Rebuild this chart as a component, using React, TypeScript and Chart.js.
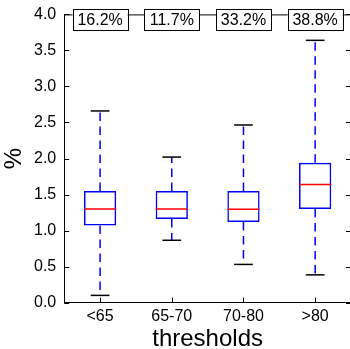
import React, { useEffect, useRef } from 'react';
import { Chart, registerables } from 'chart.js';
Chart.register(...registerables);

const categories = ['<65', '65-70', '70-80', '>80'];
const q1 = [1.07, 1.16, 1.12, 1.3];
const q3 = [1.55, 1.55, 1.55, 1.94];
const medians = [1.3, 1.3, 1.295, 1.64];
const whiskerLow = [0.1, 0.865, 0.53, 0.385];
const whiskerHigh = [2.66, 2.02, 2.465, 3.64];
const shares = ['16.2%', '11.7%', '33.2%', '38.8%'];
const yTicks = [0, 0.5, 1, 1.5, 2, 2.5, 3, 3.5, 4];

const FONT = "'Liberation Sans', Arial, sans-serif";

const boxExtras = {
  id: 'boxExtras',
  afterDatasetsDraw(chart: any) {
    const { ctx, chartArea: a, scales } = chart;
    const x = scales.x;
    const y = scales.y;
    const meta = chart.getDatasetMeta(0);
    ctx.save();
    categories.forEach((_, i) => {
      const cx = x.getPixelForValue(i);
      const bw = meta.data[i] ? meta.data[i].width : 32;
      ctx.strokeStyle = '#0000ff';
      ctx.lineWidth = 1.5;
      ctx.setLineDash([8.5, 5.5]);
      ctx.beginPath();
      ctx.moveTo(cx, y.getPixelForValue(q3[i]));
      ctx.lineTo(cx, y.getPixelForValue(whiskerHigh[i]));
      ctx.stroke();
      ctx.beginPath();
      ctx.moveTo(cx, y.getPixelForValue(q1[i]));
      ctx.lineTo(cx, y.getPixelForValue(whiskerLow[i]));
      ctx.stroke();
      ctx.setLineDash([]);
      ctx.strokeStyle = '#000000';
      const cw = bw * 0.29;
      [whiskerHigh[i], whiskerLow[i]].forEach((v) => {
        const py = y.getPixelForValue(v);
        ctx.beginPath();
        ctx.moveTo(cx - cw, py);
        ctx.lineTo(cx + cw, py);
        ctx.stroke();
      });
      ctx.strokeStyle = '#ff0000';
      const my = y.getPixelForValue(medians[i]);
      ctx.beginPath();
      ctx.moveTo(cx - bw / 2, my);
      ctx.lineTo(cx + bw / 2, my);
      ctx.stroke();
    });
    ctx.strokeStyle = '#000000';
    ctx.lineWidth = 1;
    ctx.beginPath();
    ctx.moveTo(a.left, a.top + 0.5);
    ctx.lineTo(a.right, a.top + 0.5);
    ctx.moveTo(a.right - 0.5, a.top);
    ctx.lineTo(a.right - 0.5, a.bottom);
    ctx.stroke();
    ctx.beginPath();
    yTicks.forEach((v) => {
      const py = Math.round(y.getPixelForValue(v)) + 0.5;
      ctx.moveTo(a.left, py);
      ctx.lineTo(a.left + 5, py);
      ctx.moveTo(a.right, py);
      ctx.lineTo(a.right - 5, py);
    });
    categories.forEach((_, i) => {
      const px = Math.round(x.getPixelForValue(i)) + 0.5;
      ctx.moveTo(px, a.bottom);
      ctx.lineTo(px, a.bottom - 5);
    });
    ctx.stroke();
    ctx.font = `16px ${FONT}`;
    ctx.textAlign = 'center';
    ctx.textBaseline = 'middle';
    shares.forEach((s, i) => {
      const cx = x.getPixelForValue(i);
      const w = 55;
      const h = 21;
      const top = a.top - 5;
      ctx.fillStyle = '#ffffff';
      ctx.fillRect(cx - w / 2, top, w, h);
      ctx.strokeStyle = '#000000';
      ctx.lineWidth = 1;
      ctx.strokeRect(Math.round(cx - w / 2) + 0.5, Math.round(top) + 0.5, w, h);
      ctx.fillStyle = '#000000';
      ctx.fillText(s, cx, top + h / 2 + 1);
    });
    ctx.restore();
  },
};

export default function App() {
  const ref = useRef<HTMLCanvasElement | null>(null);
  useEffect(() => {
    document.body.style.margin = '0';
    const canvas = ref.current;
    if (!canvas) return;
    const chart = new Chart(canvas, {
      type: 'bar',
      data: {
        labels: categories,
        datasets: [
          {
            data: categories.map((_, i) => [q1[i], q3[i]]) as any,
            backgroundColor: 'rgba(0,0,0,0)',
            borderColor: '#0000ff',
            borderWidth: 1.5,
            borderSkipped: false,
            barPercentage: 0.45,
            categoryPercentage: 1,
          },
        ],
      },
      options: {
        responsive: false,
        animation: false,
        devicePixelRatio: 1,
        layout: { padding: { top: 0, left: 0, right: 1, bottom: 0 } },
        plugins: { legend: { display: false }, tooltip: { enabled: false } },
        scales: {
          x: {
            type: 'category',
            offset: true,
            grid: { display: false, drawTicks: false },
            border: { display: true, color: '#000000', width: 1 },
            ticks: { color: '#000000', font: { family: FONT, size: 16 }, padding: 4 },
            title: {
              display: true,
              text: 'thresholds',
              color: '#000000',
              font: { family: FONT, size: 24, lineHeight: 0.8 },
              padding: { top: 0, bottom: 0 },
            },
          },
          y: {
            min: 0,
            max: 4,
            afterBuildTicks: (scale: any) => {
              scale.ticks = yTicks.map((v) => ({ value: v }));
            },
            grid: { display: false, drawTicks: false },
            border: { display: true, color: '#000000', width: 1 },
            ticks: {
              color: '#000000',
              font: { family: FONT, size: 16, lineHeight: 0.8 },
              padding: 8,
              callback: (v: any) => Number(v).toFixed(1),
            },
            title: {
              display: true,
              text: '%',
              color: '#000000',
              font: { family: FONT, size: 24, lineHeight: 1.0 },
              padding: { top: 2, bottom: 0 },
            },
          },
        },
      },
      plugins: [boxExtras],
    });
    return () => chart.destroy();
  }, []);
  return (
    <div style={{ position: 'fixed', left: 0, top: 0, width: 350, height: 349, overflow: 'hidden' }}>
      <canvas ref={ref} width={352} height={349} style={{ display: 'block' }} />
    </div>
  );
}
